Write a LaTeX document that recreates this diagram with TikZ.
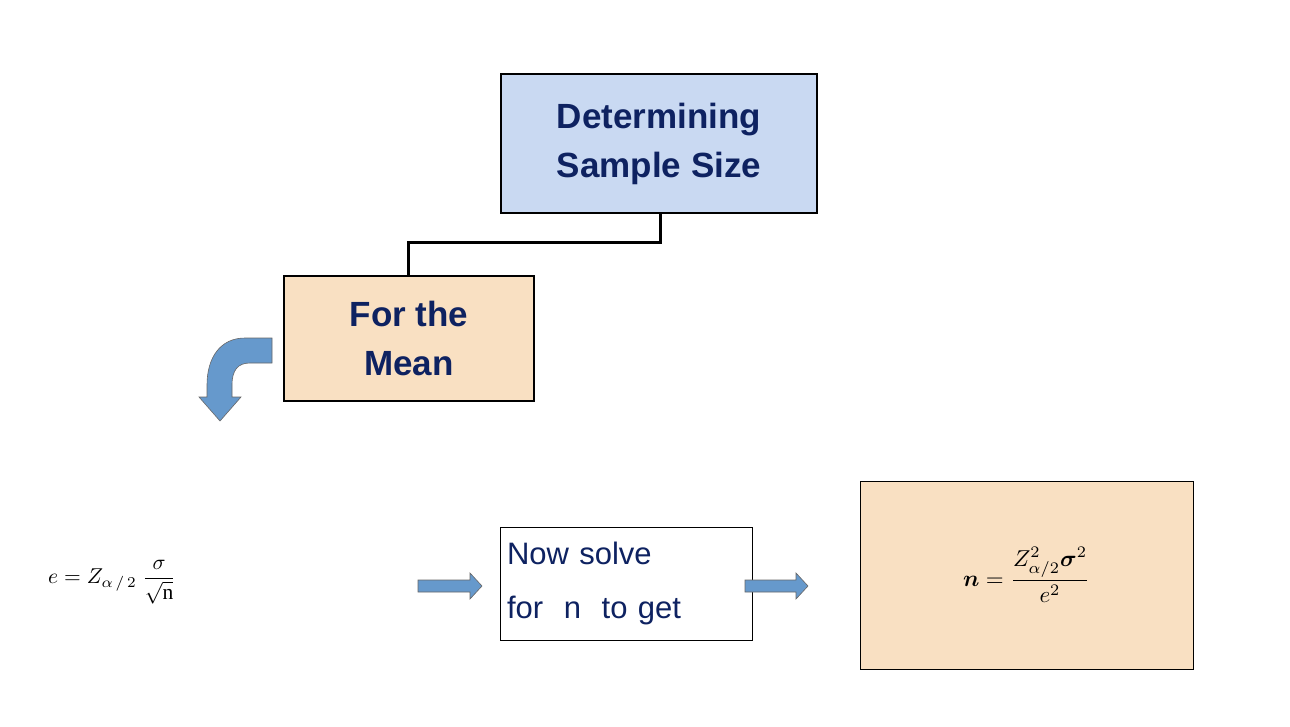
\documentclass[tikz,border=0pt]{standalone}
\usepackage{amsmath,amssymb,bm,graphicx}
\usepackage{fontspec}
\setmainfont{Liberation Serif}
\newfontfamily\sansf{Liberation Sans}
\definecolor{navy}{HTML}{0E2261}
\definecolor{lblue}{HTML}{C9D9F2}
\definecolor{peach}{HTML}{F9E0C2}
\definecolor{arrblue}{HTML}{6699CC}
\begin{document}
\begin{tikzpicture}[x=1pt,y=-1pt,
  boxstyle/.style={draw=black,line width=1.2pt,text=navy,font=\sansf\bfseries\fontsize{35}{49}\selectfont,align=center,inner sep=0},
  blockarr/.style={fill=arrblue,draw=black!60,line width=0.6pt}]
\useasboundingbox (0,0) rectangle (1290,726);
\node[boxstyle,fill=lblue,minimum width=316pt,minimum height=139pt] (top) at (659,143.5) {Determining\\Sample Size};
\node[boxstyle,fill=peach,minimum width=250pt,minimum height=125pt] (mean) at (409,338.5) {For the\\Mean};
\coordinate (c1) at (660,242);
\coordinate (c2) at (408,242);
\draw[line width=3pt] (top.south -| c1) -- (c1) -- (c2) -- (mean.north -| c2);
% curved arrow
\draw[blockarr] (272,338) -- (245,338) .. controls (220,338) and (207,358) .. (207,385) -- (207,397) -- (199,397) -- (220,421) -- (241,397) -- (232,397) -- (232,385) .. controls (232,370) and (238,363) .. (250,363) -- (272,363) -- cycle;
% left formula
\node[anchor=west,inner sep=0] (f1) at (48,582) {\scalebox{2.15}{$e = Z_{\alpha\,/\,2}\ \dfrac{\sigma}{\sqrt{\mathrm{n}}}$}};
% arrows
\draw[blockarr] (418,580) -- (470,580) -- (470,573) -- (482,586) -- (470,599) -- (470,592) -- (418,592) -- cycle;
\node[draw=black,line width=0.6pt,fill=white,minimum width=252pt,minimum height=113pt,text=navy,font=\sansf\fontsize{31}{54}\selectfont,align=left,text width=238pt,inner sep=0pt] (solve) at (626,583.5) {Now solve\\for\ \ n\ \ to get};
\draw[blockarr] (745,580) -- (796,580) -- (796,573) -- (808,586) -- (796,599) -- (796,592) -- (745,592) -- cycle;
\node[draw=black,line width=0.6pt,fill=peach,minimum width=333pt,minimum height=188pt,inner sep=0] (res) at (1026.5,575) {\scalebox{2.3}{$\bm{n} = \dfrac{Z^2_{\alpha/2}\bm{\sigma}^2}{e^2}$}};
\end{tikzpicture}
\end{document}
